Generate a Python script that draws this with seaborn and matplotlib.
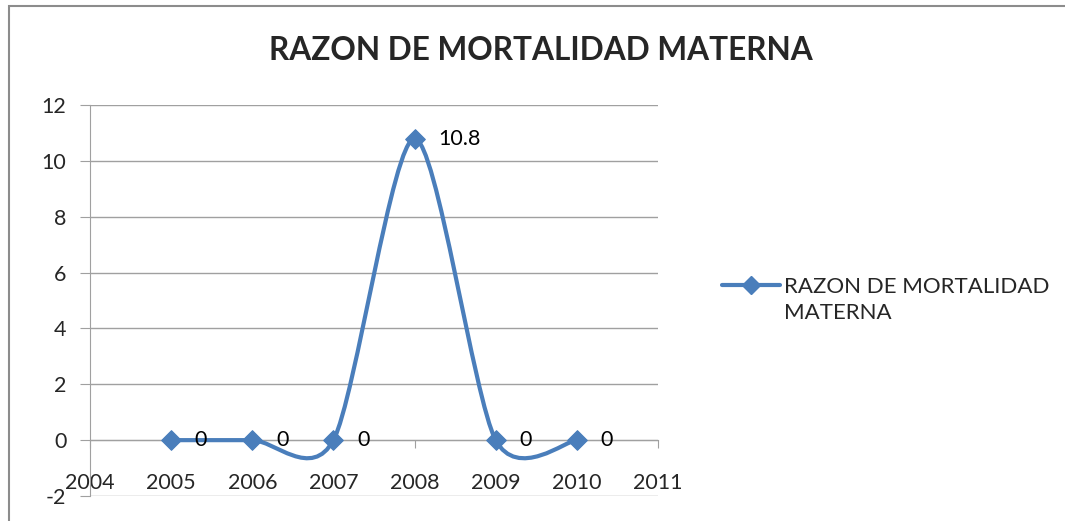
import numpy as np
import matplotlib
matplotlib.use('Agg')
import matplotlib.pyplot as plt
from matplotlib.path import Path
from matplotlib.patches import PathPatch, Rectangle
from matplotlib.lines import Line2D
from matplotlib.legend_handler import HandlerLine2D
import seaborn as sns

years = [2005, 2006, 2007, 2008, 2009, 2010]
razon = [0, 0, 0, 10.8, 0, 0]
point_labels = ['0', '0', '0', '10.8', '0', '0']
title = 'RAZON DE MORTALIDAD MATERNA'
serie = 'RAZON DE MORTALIDAD\nMATERNA'

sns.set_style('white')
plt.rcParams['font.family'] = ['Lato', 'DejaVu Sans']
plt.rcParams['axes.unicode_minus'] = False

blue = '#4a7ebb'
grey = '#a0a0a0'
W, H = 1065, 521

fig = plt.figure(figsize=(W / 100, H / 100), dpi=100)
ax = fig.add_axes([90 / W, 1 - 496 / H, 568 / W, 391 / H])

# excel style smoothed line: bezier segments built from the data points
pts = np.column_stack([years, razon]).astype(float)
k = 0.135
verts = [pts[0]]
codes = [Path.MOVETO]
n = len(pts)
for i in range(n - 1):
    p0 = pts[max(i - 1, 0)]
    p1 = pts[i]
    p2 = pts[i + 1]
    p3 = pts[min(i + 2, n - 1)]
    verts += [p1 + k * (p2 - p0), p2 - k * (p3 - p1), p2]
    codes += [Path.CURVE4] * 3
ax.add_patch(PathPatch(Path(verts, codes), fill=False, edgecolor=blue, lw=3,
                       zorder=3, capstyle='round', joinstyle='round'))

sns.scatterplot(x=years, y=razon, marker='D', s=100, color=blue,
                edgecolor=blue, zorder=4, ax=ax, legend=False)

for x, y, lab in zip(years, razon, point_labels):
    ax.annotate(lab, (x, y), xytext=(17, 0), textcoords='offset points',
                ha='left', va='center', fontsize=15.5, color='black')

ax.set_xlim(2004, 2011)
ax.set_ylim(-2, 12)
ax.set_xticks(range(2004, 2012))
ax.set_yticks(range(-2, 13, 2))
ax.grid(axis='y', color=grey, lw=1)
ax.grid(axis='x', visible=False)
ax.spines['bottom'].set_position(('data', 0))
ax.spines['bottom'].set_color(grey)
ax.spines['left'].set_color(grey)
ax.spines['top'].set_visible(False)
ax.spines['right'].set_visible(False)
ax.tick_params(axis='x', bottom=True, direction='out', length=6, pad=18,
               color=grey, labelsize=15.5)
ax.tick_params(axis='y', left=True, direction='out', length=7, pad=10,
               color=grey, labelsize=15.5)
ax.set_xlabel('')
ax.set_ylabel('')


class FirstLineHandler(HandlerLine2D):
    def create_artists(self, legend, orig_handle, xdescent, ydescent,
                       width, height, fontsize, trans):
        arts = super().create_artists(legend, orig_handle, xdescent, ydescent,
                                      width, height, fontsize, trans)
        for a in arts:
            a.set_ydata(np.asarray(a.get_ydata()) + 0.7 * fontsize)
        return arts


handle = Line2D([], [], color=blue, lw=3, marker='D', ms=9)
leg = fig.legend([handle], [serie], loc='center left',
                 bbox_to_anchor=(702 / W, 1 - 300 / H), frameon=False,
                 fontsize=16, handlelength=2.6, handletextpad=0.2,
                 handler_map={Line2D: FirstLineHandler()})
leg.get_texts()[0].set_linespacing(1.35)

fig.text(541 / W, 1 - 50 / H, title, ha='center', va='center',
         fontsize=22.8, fontweight='bold')

fig.patches.append(Rectangle((9 / W, -0.1), 1.2, 1 - 6 / H + 0.1,
                             transform=fig.transFigure, fill=False,
                             edgecolor='#8c8c8c', lw=1.5))

fig.savefig('out.png', dpi=100)
